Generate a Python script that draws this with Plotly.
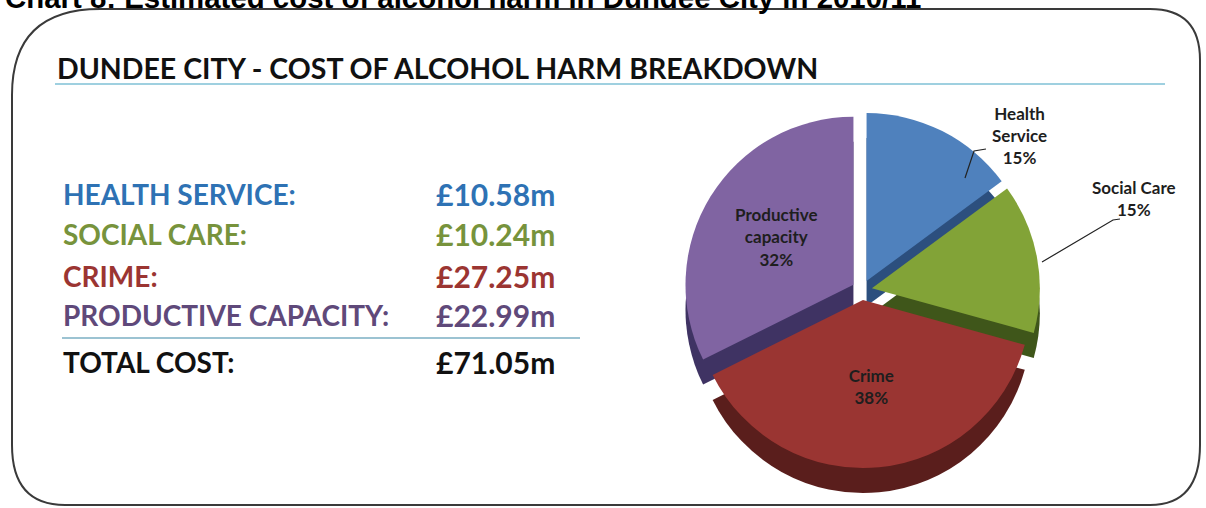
import plotly.graph_objects as go

# ---------------- data ----------------
categories = ["Health Service", "Social Care", "Crime", "Productive capacity"]
costs_m = [10.58, 10.24, 27.25, 22.99]
pct_labels = ["15%", "15%", "38%", "32%"]
slice_labels = ["Health<br>Service", "Social Care", "Crime", "Productive<br>capacity"]
table_labels = ["HEALTH SERVICE:", "SOCIAL CARE:", "CRIME:", "PRODUCTIVE CAPACITY:"]
total_label = "TOTAL COST:"
total_cost_m = 71.05

W, H = 1206, 508
def px(x):
    return x / W
def py(y):
    return 1 - y / H

top_colors = ["#4f81bd", "#82a337", "#9a3532", "#8064a2"]
side_colors = ["#2c4f7e", "#3f561a", "#5a1e1c", "#3f3363"]
table_colors = ["#2e72b4", "#77933c", "#9b3532", "#5f497a"]

inside_text = [f"<b>{l}<br>{p}</b>" for l, p in zip(slice_labels, pct_labels)]
positions = ["none", "none", "inside", "inside"]
pull = [0.06, 0.06, 0.06, 0.06]

cx, cy, half, depth = 862, 290, 178, 25
fig = go.Figure()
# depth (side) layer
fig.add_trace(go.Pie(
    labels=categories, values=costs_m, sort=False, direction="clockwise",
    rotation=0, pull=pull, textinfo="none",
    marker=dict(colors=side_colors, line=dict(width=0)),
    domain=dict(x=[px(cx - half), px(cx + half)], y=[py(cy + depth + half), py(cy + depth - half)]),
    showlegend=False, hoverinfo="skip",
))
# top surface
fig.add_trace(go.Pie(
    labels=categories, values=costs_m, sort=False, direction="clockwise",
    rotation=0, pull=pull, text=inside_text, textinfo="text",
    textposition=positions, insidetextorientation="horizontal",
    textfont=dict(color="#1e1e1e", size=17, family="Lato"),
    marker=dict(colors=top_colors, line=dict(width=0)),
    domain=dict(x=[px(cx - half), px(cx + half)], y=[py(cy + half), py(cy - half)]),
    showlegend=False,
))

# rounded frame
x0, x1, y0, y1 = 12, 1200, 9, 505
frame = (f"M {px(100)},{py(y0)} L {px(1150)},{py(y0)} "
         f"Q {px(x1)},{py(y0)} {px(x1)},{py(60)} "
         f"L {px(x1)},{py(445)} Q {px(x1)},{py(y1)} {px(1150)},{py(y1)} "
         f"L {px(65)},{py(y1)} Q {px(x0)},{py(y1)} {px(x0)},{py(445)} "
         f"L {px(x0)},{py(95)} Q {px(x0)},{py(y0)} {px(100)},{py(y0)} Z")
shapes = [
    dict(type="path", xref="paper", yref="paper", path=frame,
         line=dict(color="#3a3a3a", width=2), fillcolor="rgba(0,0,0,0)", layer="below"),
    dict(type="line", xref="paper", yref="paper", x0=px(55), x1=px(1165), y0=py(84), y1=py(84),
         line=dict(color="#9fd0e0", width=2)),
    dict(type="line", xref="paper", yref="paper", x0=px(62), x1=px(580), y0=py(338), y1=py(338),
         line=dict(color="#9cc3d2", width=2)),
    # leader lines for outside labels
    dict(type="path", xref="paper", yref="paper",
         path=f"M {px(986)},{py(149)} L {px(974)},{py(151)} L {px(965)},{py(178)}",
         line=dict(color="#222222", width=1.2)),
    dict(type="path", xref="paper", yref="paper",
         path=f"M {px(1120)},{py(219)} L {px(1113)},{py(220)} L {px(1042)},{py(262)}",
         line=dict(color="#222222", width=1.2)),
]

annotations = [
    dict(text="<b>Chart 8: Estimated cost of alcohol harm in Dundee City in 2010/11</b>",
         x=px(3), y=1 + 3 / H, xref="paper", yref="paper", xanchor="left", yanchor="middle",
         showarrow=False, font=dict(family="Liberation Sans", size=29.4, color="#000000")),
    dict(text="<b>DUNDEE CITY - COST OF ALCOHOL HARM BREAKDOWN</b>",
         x=px(55), y=py(68), xref="paper", yref="paper", xanchor="left", yanchor="middle",
         showarrow=False, font=dict(family="Lato", size=28.5, color="#111111")),
    dict(text="<b>Health<br>Service<br>15%</b>", x=px(1019), y=py(136), xref="paper", yref="paper",
         xanchor="center", yanchor="middle", showarrow=False,
         font=dict(family="Lato", size=17, color="#1e1e1e")),
    dict(text="<b>Social Care<br>15%</b>", x=px(1134), y=py(199), xref="paper", yref="paper",
         xanchor="center", yanchor="middle", showarrow=False,
         font=dict(family="Lato", size=17, color="#1e1e1e")),
]

row_y = [194, 234, 276, 315]
for lab, val, col, ry in zip(table_labels, costs_m, table_colors, row_y):
    annotations.append(dict(text=f"<b>{lab}</b>", x=px(61), y=py(ry), xref="paper", yref="paper",
                            xanchor="left", yanchor="middle", showarrow=False,
                            font=dict(family="Lato", size=28, color=col)))
    annotations.append(dict(text=f"<b>£{val:.2f}m</b>", x=px(557), y=py(ry), xref="paper", yref="paper",
                            xanchor="right", yanchor="middle", showarrow=False,
                            font=dict(family="Lato", size=30, color=col)))
annotations.append(dict(text=f"<b>{total_label}</b>", x=px(61), y=py(362), xref="paper", yref="paper",
                        xanchor="left", yanchor="middle", showarrow=False,
                        font=dict(family="Lato", size=28, color="#111111")))
annotations.append(dict(text=f"<b>£{total_cost_m:.2f}m</b>", x=px(557), y=py(362), xref="paper", yref="paper",
                        xanchor="right", yanchor="middle", showarrow=False,
                        font=dict(family="Lato", size=30, color="#111111")))

fig.update_layout(
    width=W, height=H, autosize=False, margin=dict(l=0, r=0, t=0, b=0, pad=0),
    paper_bgcolor="white", plot_bgcolor="white",
    shapes=shapes, annotations=annotations,
)
fig.write_html("out.html", config={"responsive": False, "displayModeBar": False},
               post_script="document.body.style.margin='0';")
